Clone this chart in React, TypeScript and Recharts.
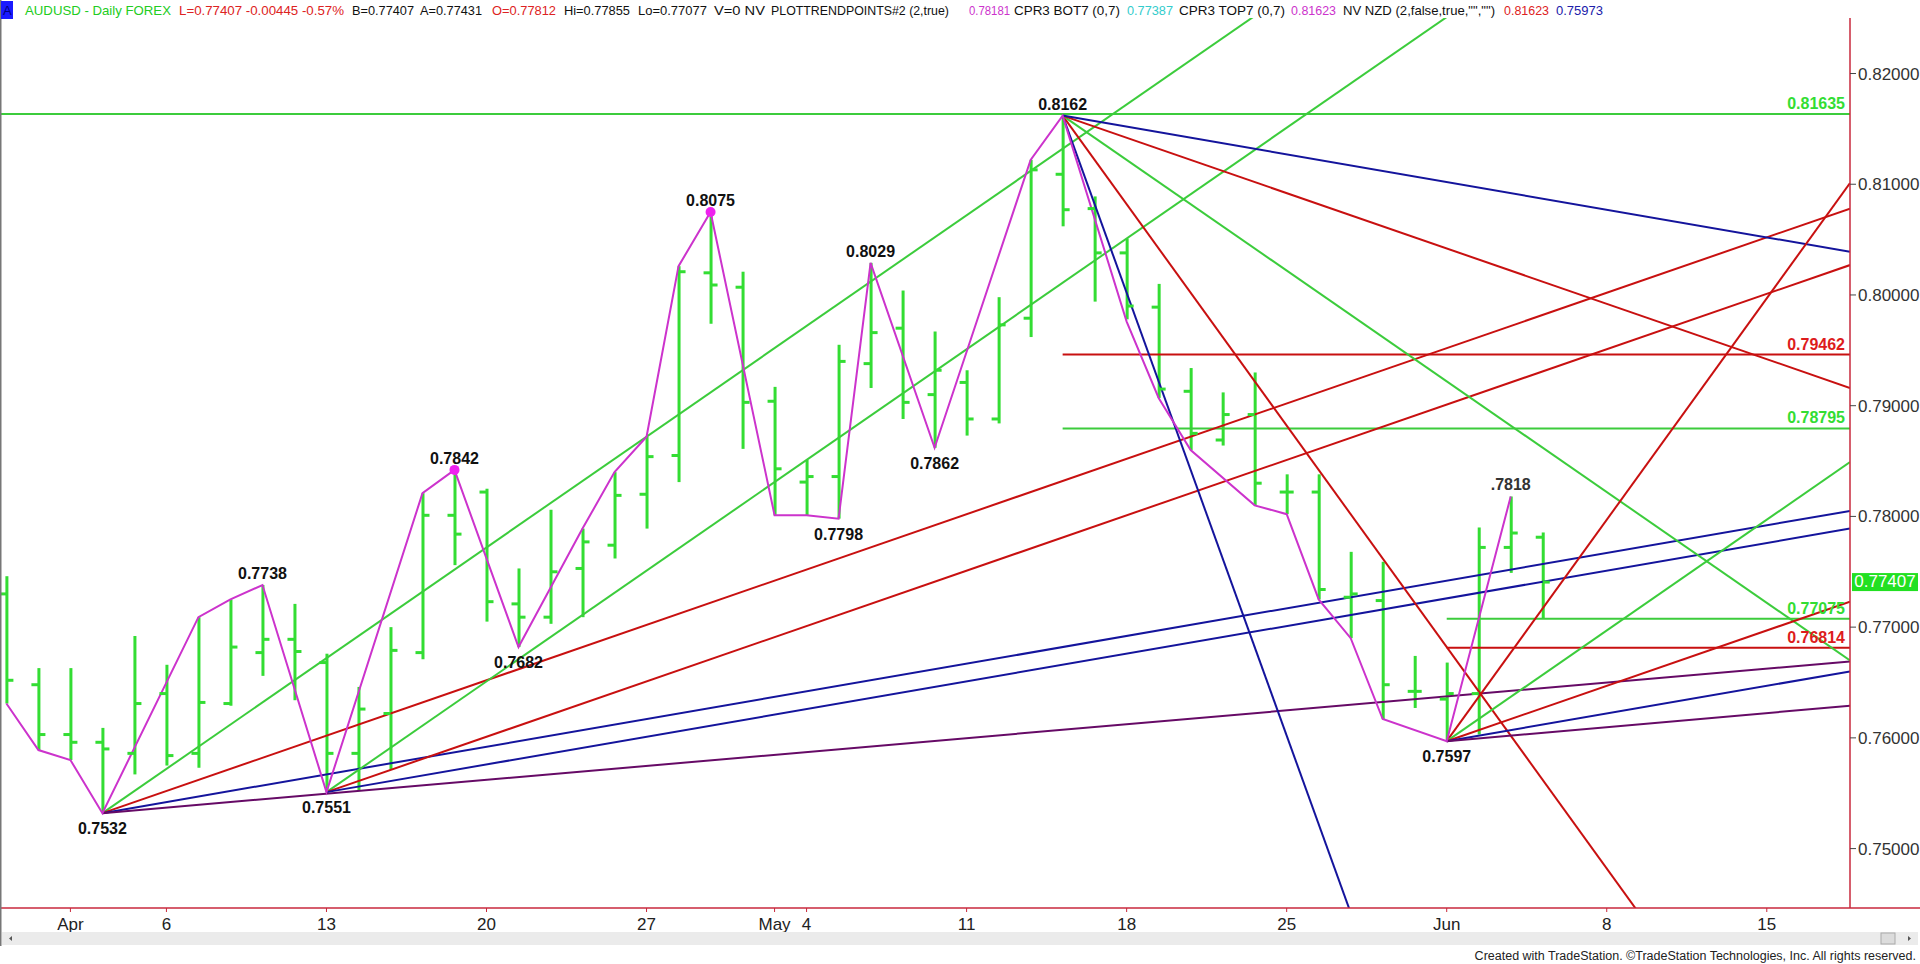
import { ComposedChart, Bar, Line, Scatter, XAxis, YAxis, ReferenceLine } from "recharts";

const BAR_GREEN = "#33dd33";
const LINE_GREEN = "#3ccc3c";
const RED = "#c81010";
const BLUE = "#14149c";
const PURPLE = "#660a66";
const MAGENTA = "#cc33cc";
const AXIS = "#c8283c";
const NARROW = "'Liberation Sans Narrow', 'Arial Narrow', 'Liberation Sans', sans-serif";
const ARIAL = "'Liberation Sans', Arial, sans-serif";

// daily AUDUSD bars, Mar 30 .. Jun 4 (index = trading day)
const OPEN = [
  0.773, 0.7648, 0.7603, 0.7596, 0.7586, 0.764, 0.7586, 0.7631, 0.7677, 0.7689,
  0.7668, 0.7586, 0.7622, 0.7677, 0.7801, 0.7822, 0.7721, 0.7709, 0.7753, 0.7774,
  0.782, 0.7855, 0.802, 0.8007, 0.7904, 0.7831, 0.7836, 0.7938, 0.797, 0.791,
  0.7921, 0.7888, 0.7979, 0.8109, 0.8078, 0.8038, 0.7989, 0.7913, 0.7869, 0.7892,
  0.7822, 0.7822, 0.7727, 0.7724, 0.7642, 0.7635, 0.764, 0.7772, 0.77812,
];
const HIGH = [
  0.7746, 0.7663, 0.7663, 0.7609, 0.7692, 0.7666, 0.7709, 0.7725, 0.7738, 0.7721,
  0.7676, 0.7646, 0.77, 0.7821, 0.7842, 0.7825, 0.7753, 0.7806, 0.7789, 0.784,
  0.7872, 0.8026, 0.8075, 0.8021, 0.7917, 0.7851, 0.7955, 0.8029, 0.8004, 0.7967,
  0.7932, 0.7998, 0.8122, 0.8162, 0.8089, 0.8051, 0.801, 0.7934, 0.7912, 0.793,
  0.7838, 0.7838, 0.7768, 0.7759, 0.7674, 0.7668, 0.779, 0.7818, 0.77855,
];
const LOW = [
  0.7631, 0.7589, 0.758, 0.7532, 0.7567, 0.7575, 0.7573, 0.7629, 0.7656, 0.7634,
  0.7551, 0.7552, 0.7571, 0.7671, 0.7756, 0.7705, 0.7682, 0.7703, 0.7709, 0.7762,
  0.7789, 0.7831, 0.7974, 0.7861, 0.7801, 0.7801, 0.7798, 0.7916, 0.7888, 0.7862,
  0.7873, 0.7884, 0.7962, 0.8062, 0.7994, 0.7978, 0.7907, 0.786, 0.7864, 0.781,
  0.7802, 0.7725, 0.769, 0.7617, 0.7627, 0.7597, 0.7603, 0.7749, 0.77077,
];
const CLOSE = [
  0.7652, 0.7603, 0.7596, 0.759, 0.7631, 0.7584, 0.7632, 0.7682, 0.7689, 0.7678,
  0.7586, 0.7626, 0.7679, 0.7801, 0.7784, 0.7723, 0.7709, 0.775, 0.7777, 0.7819,
  0.7854, 0.8021, 0.8009, 0.7903, 0.7843, 0.7836, 0.794, 0.7966, 0.7903, 0.7932,
  0.7888, 0.7973, 0.8113, 0.8077, 0.8038, 0.799, 0.7915, 0.7875, 0.7892, 0.783,
  0.7822, 0.7734, 0.773, 0.7648, 0.7642, 0.764, 0.7772, 0.7785, 0.77407,
];

const TICK_IDX = [2, 5, 10, 15, 20, 24, 25, 30, 35, 40, 45, 50, 55];
const TICK_LABELS = ["Apr", "6", "13", "20", "27", "May", "4", "11", "18", "25", "Jun", "8", "15"];
const PRICE_TICKS = [0.75, 0.76, 0.77, 0.78, 0.79, 0.8, 0.81, 0.82];

// swing line (plot trend points)
const SWING_IDX = [0, 1, 2, 3, 6, 7, 8, 10, 13, 14, 16, 18, 19, 20, 21, 22, 24, 25, 26, 27, 29, 32, 33, 35, 36, 37, 39, 40, 41, 42, 43, 45, 47];
const SWING_PRICE = [
  0.7631, 0.7589, 0.758, 0.7532, 0.7709, 0.7725, 0.7738, 0.7551, 0.7821, 0.7842,
  0.7682, 0.7789, 0.784, 0.7872, 0.8026, 0.8075, 0.7801, 0.7801, 0.7798, 0.8029,
  0.7862, 0.8122, 0.8162, 0.7976, 0.7907, 0.786, 0.781, 0.7802, 0.7725, 0.769,
  0.7617, 0.7597, 0.7818,
];

const PIVOT_IDX = [3, 8, 10, 14, 16, 22, 26, 27, 29, 33, 45, 47];
const PIVOT_PRICE = [0.7532, 0.7738, 0.7551, 0.7842, 0.7682, 0.8075, 0.7798, 0.8029, 0.7862, 0.8162, 0.7597, 0.7818];
const PIVOT_TEXT = ["0.7532", "0.7738", "0.7551", "0.7842", "0.7682", "0.8075", "0.7798", "0.8029", "0.7862", "0.8162", "0.7597", ".7818"];
const PIVOT_BELOW = [true, false, true, false, true, false, true, false, true, false, true, false];

const DOT_IDX = [14, 22];
const DOT_PRICE = [0.7842, 0.8075];

const LEVELS = [0.81635, 0.79462, 0.78795, 0.77075, 0.76814];
const LEVEL_FROM = [-0.2, 33, 33, 45, 45];
const LEVEL_KIND = ["g", "r", "g", "g", "r"];

// angle lines from the swing pivots: [x1, p1, x2, p2]
const TREND = [
  [3, 0.7532, 57.6, 0.8624],
  [3, 0.7532, 57.6, 0.8078],
  [3, 0.7532, 57.6, 0.7805],
  [3, 0.7532, 57.6, 0.7669],
  [10, 0.7551, 57.6, 0.8503],
  [10, 0.7551, 57.6, 0.8027],
  [10, 0.7551, 57.6, 0.7789],
  [33, 0.8162, 57.6, 0.6194],
  [33, 0.8162, 57.6, 0.7178],
  [33, 0.8162, 57.6, 0.767],
  [33, 0.8162, 57.6, 0.7916],
  [33, 0.8162, 57.6, 0.8039],
  [45, 0.7597, 57.6, 0.8101],
  [45, 0.7597, 57.6, 0.7849],
  [45, 0.7597, 57.6, 0.7723],
  [45, 0.7597, 57.6, 0.766],
  [45, 0.7597, 57.6, 0.7629],
];
const TREND_KIND = ["g", "r", "b", "p", "g", "r", "b", "b", "r", "g", "r", "b", "r", "g", "r", "b", "p"];

const LAST = 0.77407;

const KIND_COLOR: Record<string, string> = { g: LINE_GREEN, r: RED, b: BLUE, p: PURPLE };

const bars = OPEN.map((o, i) => ({ i, range: [LOW[i], HIGH[i]], open: o, close: CLOSE[i] }));
const swing = SWING_IDX.map((i, k) => ({ i, p: SWING_PRICE[k] }));
const pivots = PIVOT_IDX.map((i, k) => ({ i, p: PIVOT_PRICE[k], t: PIVOT_TEXT[k], below: PIVOT_BELOW[k] }));
const dots = DOT_IDX.map((i, k) => ({ i, p: DOT_PRICE[k] }));

function HiLo(props: any) {
  const { x, y, width, height } = props;
  if (x == null || y == null) return null;
  const cx = x + (width || 0) / 2;
  const top = Math.min(y, y + height);
  return <rect x={cx - 1.5} y={top} width={3} height={Math.max(Math.abs(height), 1)} fill={BAR_GREEN} />;
}

function OpenTick(props: any) {
  const { cx, cy } = props;
  return <line x1={cx - 7} x2={cx} y1={cy} y2={cy} stroke={BAR_GREEN} strokeWidth={3} />;
}

function CloseTick(props: any) {
  const { cx, cy } = props;
  return <line x1={cx} x2={cx + 7} y1={cy} y2={cy} stroke={BAR_GREEN} strokeWidth={3} />;
}

function PivotLabel(props: any) {
  const { cx, cy, payload } = props;
  return (
    <text
      x={cx}
      y={cy + (payload.below ? 21 : -6)}
      textAnchor="middle"
      fontFamily={ARIAL}
      fontWeight="bold"
      fontSize={16}
      fill={payload.t.startsWith(".") ? "#333" : "#111"}
    >
      {payload.t}
    </text>
  );
}

function PivotDot(props: any) {
  const { cx, cy } = props;
  return <circle cx={cx} cy={cy} r={5} fill="#ee22ee" />;
}

function LastBox(props: any) {
  const { cx, cy } = props;
  return (
    <g>
      <rect x={cx + 2} y={cy - 9} width={66} height={18} fill="#22e022" />
      <text x={cx + 35} y={cy + 5} textAnchor="middle" fontFamily={NARROW} fontSize={17} fill="#ffffff">
        {LAST.toFixed(5)}
      </text>
    </g>
  );
}

const HEADER: [string, number, number, string][] = [
  ["AUDUSD - Daily  FOREX", 25, 171, "#22cc22"],
  ["L=0.77407  -0.00445  -0.57%", 179, 344, "#dd2222"],
  ["B=0.77407", 352, 414, "#111"],
  ["A=0.77431", 420, 482, "#111"],
  ["O=0.77812", 492, 556, "#dd2222"],
  ["Hi=0.77855", 564, 630, "#111"],
  ["Lo=0.77077", 638, 707, "#111"],
  ["V=0  NV", 714, 765, "#111"],
  ["PLOTTRENDPOINTS#2 (2,true)", 771, 949, "#111"],
  ["0.78181", 969, 1010, "#cc33cc"],
  ["CPR3 BOT7 (0,7)", 1014, 1120, "#111"],
  ["0.77387", 1127, 1173, "#33cccc"],
  ["CPR3 TOP7 (0,7)", 1179, 1285, "#111"],
  ["0.81623", 1291, 1336, "#cc33cc"],
  ['NV NZD (2,false,true,"","")', 1343, 1495, "#111"],
  ["0.81623", 1504, 1549, "#dd2222"],
  ["0.75973", 1556, 1603, "#2020aa"],
];

export default function App() {
  return (
    <div style={{ position: "absolute", left: 0, top: 0, width: 1920, height: 964, background: "#fff" }}>
      <ComposedChart
        width={1920}
        height={964}
        data={bars}
        margin={{ top: 18, right: 0, bottom: 0, left: 0 }}
      >
        <XAxis
          dataKey="i"
          type="number"
          domain={[-0.2, 57.6]}
          ticks={TICK_IDX}
          interval={0}
          tickFormatter={(v: number) => TICK_LABELS[TICK_IDX.indexOf(v)] ?? ""}
          height={56}
          axisLine={{ stroke: AXIS, strokeWidth: 1.5 }}
          tickLine={{ stroke: AXIS }}
          tickSize={4}
          tickMargin={6}
          tick={{ fill: "#222", fontSize: 17, fontFamily: NARROW }}
        />
        <YAxis
          orientation="right"
          type="number"
          width={70}
          domain={[0.744634, 0.825014]}
          ticks={PRICE_TICKS}
          tickFormatter={(v: number) => v.toFixed(5)}
          axisLine={{ stroke: AXIS, strokeWidth: 1.5 }}
          tickLine={{ stroke: "#444" }}
          tickSize={6}
          tick={{ fill: "#333", fontSize: 17, fontFamily: NARROW }}
        />
        {LEVELS.map((lv, k) => (
          <ReferenceLine
            key={"lv" + k}
            segment={[
              { x: LEVEL_FROM[k], y: lv },
              { x: 57.6, y: lv },
            ]}
            stroke={KIND_COLOR[LEVEL_KIND[k]]}
            strokeWidth={2}
            ifOverflow="hidden"
            label={{
              value: lv.toFixed(5),
              position: "insideBottomRight",
              offset: 5,
              fill: LEVEL_KIND[k] === "g" ? "#33dd33" : "#dd1c1c",
              fontSize: 16,
              fontWeight: "bold",
              fontFamily: ARIAL,
            }}
          />
        ))}
        {TREND.map((t, k) => (
          <ReferenceLine
            key={"tr" + k}
            segment={[
              { x: t[0], y: t[1] },
              { x: t[2], y: t[3] },
            ]}
            stroke={KIND_COLOR[TREND_KIND[k]]}
            strokeWidth={2}
            ifOverflow="hidden"
          />
        ))}
        <Bar dataKey="range" barSize={3} shape={<HiLo />} isAnimationActive={false} />
        <Scatter data={bars} dataKey="open" shape={<OpenTick />} isAnimationActive={false} />
        <Scatter data={bars} dataKey="close" shape={<CloseTick />} isAnimationActive={false} />
        <Line
          data={swing}
          dataKey="p"
          stroke={MAGENTA}
          strokeWidth={2}
          dot={false}
          activeDot={false}
          isAnimationActive={false}
        />
        <Scatter data={dots} dataKey="p" shape={<PivotDot />} isAnimationActive={false} />
        <Scatter data={pivots} dataKey="p" shape={<PivotLabel />} isAnimationActive={false} />
        <Scatter data={[{ i: 57.6, p: LAST }]} dataKey="p" shape={<LastBox />} isAnimationActive={false} />
      </ComposedChart>

      <svg
        width={1920}
        height={964}
        style={{ position: "absolute", left: 0, top: 0, pointerEvents: "none" }}
      >
        <line x1={0.5} y1={0} x2={0.5} y2={946} stroke="#777" strokeWidth={2} />
        <rect x={1} y={1} width={12} height={18} fill="#1a1aff" />
        <text x={3} y={15} fontFamily={NARROW} fontSize={13} fill="#000080">A</text>
        {HEADER.map(([t, x0, x1, c], k) => (
          <text
            key={k}
            x={x0}
            y={15}
            fontFamily={NARROW}
            fontSize={13}
            fill={c}
            textLength={x1 - x0}
            lengthAdjust="spacingAndGlyphs"
          >
            {t}
          </text>
        ))}
        <line x1={1850} y1={908} x2={1920} y2={908} stroke={AXIS} strokeWidth={1.5} />
        <rect x={2} y={932} width={1916} height={13} fill="#ebebeb" />
        <polygon points="9,938.5 12,936 12,941" fill="#555" />
        <rect x={1881} y={933} width={14} height={11} fill="#dcdcdc" stroke="#aaa" />
        <polygon points="1911,938.5 1908,936 1908,941" fill="#555" />
        <text x={1916} y={960} textAnchor="end" fontFamily={NARROW} fontSize={12.5} fill="#222">
          Created with TradeStation. ©TradeStation Technologies, Inc. All rights reserved.
        </text>
      </svg>
    </div>
  );
}
